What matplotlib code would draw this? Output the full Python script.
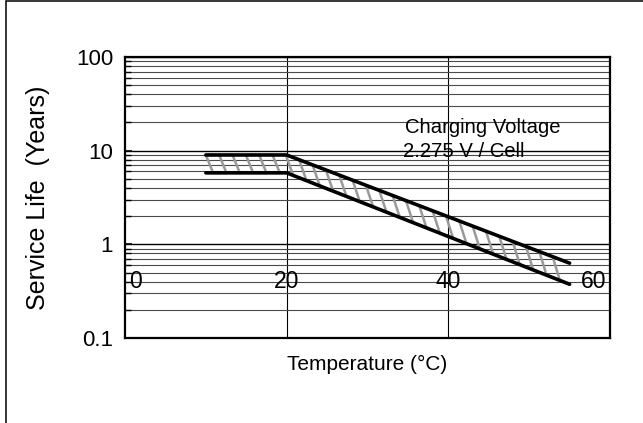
import numpy as np
import matplotlib
matplotlib.use('Agg')
import matplotlib.pyplot as plt
from matplotlib.ticker import LogLocator, NullFormatter
from matplotlib.patches import Rectangle

plt.rcParams['font.family'] = ['Liberation Sans', 'DejaVu Sans']

# data
temps = [10, 20, 55]
life_upper = [9.0, 9.0, 0.63]
life_lower = [5.8, 5.8, 0.375]
x_ticks = [0, 20, 40, 60]
x_tick_labels = ['0', '20', '40', '60']
y_ticks = [0.1, 1, 10, 100]
y_tick_labels = ['0.1', '1', '10', '100']


def log_interp(xq, xs, ys):
    # straight line on the log axis
    return 10 ** np.interp(xq, xs, np.log10(ys))


fig = plt.figure(figsize=(6.43, 4.23), dpi=100)
ax = fig.add_axes([0.1944, 0.2009, 0.7543, 0.6643])
ax.set_yscale('log')
ax.set_xlim(x_ticks[0], x_ticks[-1])
ax.set_ylim(y_ticks[0], y_ticks[-1])

# grid
ax.yaxis.set_minor_locator(LogLocator(base=10, subs=np.arange(2, 10)))
ax.yaxis.set_minor_formatter(NullFormatter())
ax.grid(which='minor', axis='y', color='#4a4a4a', lw=0.8)
ax.grid(which='major', axis='y', color='k', lw=1.0)
for xv in x_ticks[1:-1]:
    ax.axvline(xv, color='k', lw=0.8, zorder=1)

# hatch between the two curves (steep diagonal strokes)
shift = 0.9
step = 1.65
for x0 in np.arange(temps[0], temps[-1] - shift + 0.01, step):
    ax.plot([x0, x0 + shift],
            [log_interp(x0, temps, life_upper), log_interp(x0 + shift, temps, life_lower)],
            color='#9a9a9a', lw=1.8, solid_capstyle='butt', zorder=3)

ax.plot(temps, life_upper, color='k', lw=2.6, solid_capstyle='round', zorder=4)
ax.plot(temps, life_lower, color='k', lw=2.6, solid_capstyle='round', zorder=4)

# ticks
ax.set_yticks(y_ticks, y_tick_labels)
ax.set_xticks([])
ax.tick_params(axis='y', which='both', direction='in', right=False, labelsize=16, pad=8.5)
ax.tick_params(axis='y', which='major', length=5, width=1.2)
ax.tick_params(axis='y', which='minor', length=4, width=1.0)
for sp in ax.spines.values():
    sp.set_linewidth(1.6)

# x labels sit inside the plot
xt = ax.get_xaxis_transform()
for xv, lab in zip(x_ticks, x_tick_labels):
    if xv == x_ticks[0]:
        ax.text(xv + 0.55, 0.178, lab, transform=xt, ha='left', va='baseline', fontsize=16.5, zorder=5)
    elif xv == x_ticks[-1]:
        ax.text(xv - 0.45, 0.178, lab, transform=xt, ha='right', va='baseline', fontsize=16.5, zorder=5)
    else:
        ax.text(xv, 0.178, lab, transform=xt, ha='center', va='baseline', fontsize=16.5, zorder=5)

ax.text(0.577, 0.728, 'Charging Voltage', transform=ax.transAxes, fontsize=14.6, va='baseline', zorder=5)
ax.text(0.573, 0.645, '2.275 V / Cell', transform=ax.transAxes, fontsize=14.6, va='baseline', zorder=5)

fig.text(0.5715, (423 - 370) / 423, 'Temperature (°C)', ha='center', va='baseline', fontsize=15)
fig.text(38 / 643, 0.533, 'Service Life  (Years)', rotation=90, ha='center', va='center', fontsize=18)

# outer frame
fig.add_artist(Rectangle((6 / 643, -0.05), 1.0, 1.05 - 1.5 / 423, transform=fig.transFigure,
                         fill=False, ec='k', lw=1.1))

fig.savefig('out.png', dpi=100)
